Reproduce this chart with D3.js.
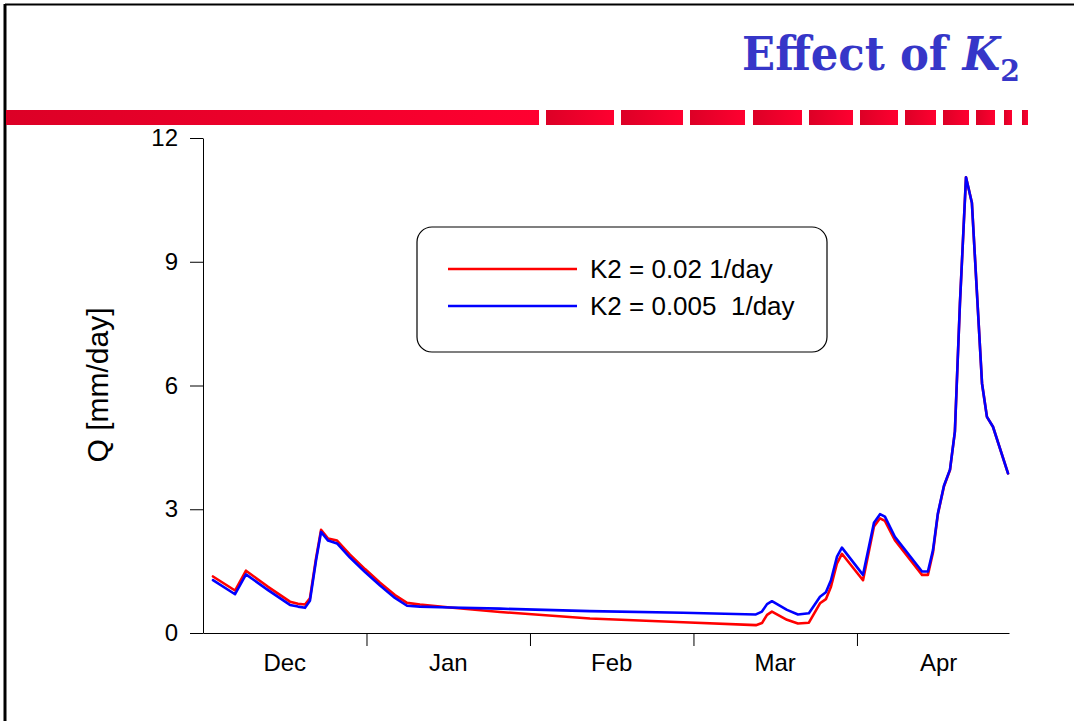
<!DOCTYPE html>
<html>
<head>
<meta charset="utf-8">
<script src="https://cdn.jsdelivr.net/npm/d3@7"></script>
<style>
html,body{margin:0;padding:0;background:#fff;}
svg{display:block;}
</style>
</head>
<body>
<svg id="chart" width="1074" height="721"></svg>
<script>
// ---- data ----
const title = "Effect of ";
const titleVar = "K";
const titleSub = "2";
const yLabel = "Q [mm/day]";
const yTicks = [0, 3, 6, 9, 12];
const monthTicks = [1, 2, 3, 4];
const monthLabels = ["Dec", "Jan", "Feb", "Mar", "Apr"];
const seriesNames = ["K2 = 0.02 1/day", "K2 = 0.005  1/day"];
// time in months since 1 Dec
const tMonths = [0.061,0.196,0.263,0.398,0.532,0.581,0.624,0.654,0.691,0.722,0.765,0.820,0.899,0.991,1.083,1.174,1.248,1.327,1.511,1.817,2.367,2.937,3.382,3.419,3.450,3.480,3.572,3.639,3.706,3.774,3.810,3.841,3.878,3.908,4.037,4.104,4.141,4.171,4.232,4.398,4.434,4.465,4.495,4.532,4.569,4.599,4.630,4.667,4.703,4.765,4.795,4.832,4.924];
const qK2_002  = [1.37,1.03,1.51,1.12,0.76,0.71,0.69,0.84,1.80,2.50,2.29,2.24,1.90,1.55,1.22,0.92,0.73,0.69,0.62,0.51,0.35,0.26,0.19,0.24,0.44,0.52,0.32,0.23,0.25,0.72,0.82,1.12,1.69,1.92,1.28,2.58,2.78,2.72,2.25,1.41,1.41,1.95,2.88,3.55,3.95,4.88,8.0,11.05,10.43,6.05,5.24,5.00,3.87];
const qK2_0005 = [1.28,0.94,1.42,1.04,0.68,0.64,0.61,0.78,1.75,2.45,2.24,2.17,1.83,1.48,1.15,0.85,0.66,0.64,0.62,0.59,0.53,0.49,0.45,0.52,0.70,0.77,0.56,0.45,0.48,0.88,0.99,1.28,1.85,2.07,1.41,2.67,2.88,2.82,2.33,1.49,1.49,2.01,2.90,3.57,3.96,4.88,8.0,11.05,10.43,6.05,5.24,5.00,3.87];

// ---- layout ----
const svg = d3.select("#chart");
const font = "Liberation Sans, Arial, Helvetica, sans-serif";

// frame
svg.append("line").attr("x1",5).attr("x2",1074).attr("y1",4.5).attr("y2",4.5).attr("stroke","#000").attr("stroke-width",2);
svg.append("line").attr("x1",5).attr("x2",5).attr("y1",4).attr("y2",721).attr("stroke","#000").attr("stroke-width",3);

// red dashed banner
const defs = svg.append("defs");
const grad = defs.append("linearGradient").attr("id","redgrad").attr("x1","0").attr("x2","1").attr("y1","0").attr("y2","0");
grad.append("stop").attr("offset","0").attr("stop-color","#dc0026");
grad.append("stop").attr("offset","1").attr("stop-color","#ff0030");
const segs = [[6,539],[546,614],[621,683],[690,745],[753,802],[809,853],[860,898],[905,936],[943,969],[976,995],[1004,1012],[1022,1028]];
svg.append("g").selectAll("rect").data(segs).join("rect")
  .attr("x",d=>d[0]).attr("width",d=>d[1]-d[0]).attr("y",110).attr("height",15)
  .attr("fill","url(#redgrad)");

// title
const tt = svg.append("text").attr("x",1020).attr("y",70).attr("text-anchor","end")
  .attr("font-family","DejaVu Serif, Liberation Serif, serif").attr("font-weight","bold")
  .attr("font-size",46).attr("fill","#3636c8");
tt.append("tspan").text(title);
tt.append("tspan").attr("font-style","italic").text(titleVar);
tt.append("tspan").attr("font-size",30).attr("dy",11).text(titleSub);
(function(){
  const w = tt.node().getComputedTextLength();
  const s = 278 / w;
  tt.attr("transform",`translate(1020,70) scale(${s},1) translate(-1020,-70)`);
})();

// scales
const x = d3.scaleLinear().domain([0, 4.93]).range([203, 1009]);
const y = d3.scaleLinear().domain([0, 12]).range([633, 138]);

// y axis
const yAxis = svg.append("g").attr("transform","translate(203,0)")
  .call(d3.axisLeft(y).tickValues(yTicks).tickSize(13).tickPadding(12).tickSizeOuter(0));
yAxis.select(".domain").attr("stroke","#000").attr("stroke-width",1);
yAxis.selectAll(".tick line").attr("stroke","#000");
yAxis.selectAll(".tick text").attr("font-family",font).attr("font-size",24).attr("fill","#000");

// x axis
const xAxis = svg.append("g").attr("transform","translate(0,633)")
  .call(d3.axisBottom(x).tickValues(monthTicks).tickSize(13).tickFormat("").tickSizeOuter(0));
xAxis.select(".domain").attr("stroke","#000").attr("stroke-width",1);
xAxis.selectAll(".tick line").attr("stroke","#000");
svg.append("g").selectAll("text").data(monthLabels).join("text")
  .attr("x",(d,i)=>x(i+0.5)).attr("y",671).attr("text-anchor","middle")
  .attr("font-family",font).attr("font-size",24).attr("fill","#000").text(d=>d);

// y label
svg.append("text").attr("transform","translate(108,385) rotate(-90)")
  .attr("text-anchor","middle").attr("font-family",font).attr("font-size",30).attr("fill","#000").text(yLabel);

// lines
const line = d3.line().x((d,i)=>x(tMonths[i])).y(d=>y(d));
const colors = ["#ff0000","#0000ff"];
[qK2_002, qK2_0005].forEach((s,k)=>{
  svg.append("path").datum(s).attr("d",line).attr("fill","none")
    .attr("stroke",colors[k]).attr("stroke-width",2.6).attr("stroke-linejoin","round").attr("stroke-linecap","round");
});

// legend
svg.append("rect").attr("x",417).attr("y",227).attr("width",410).attr("height",125).attr("rx",15).attr("ry",15)
  .attr("fill","#fff").attr("stroke","#000").attr("stroke-width",1.2);
const ly = [269, 306];
seriesNames.forEach((n,k)=>{
  svg.append("line").attr("x1",448).attr("x2",577).attr("y1",ly[k]).attr("y2",ly[k]).attr("stroke",colors[k]).attr("stroke-width",2.5);
  svg.append("text").attr("x",590).attr("y",ly[k]+9).attr("font-family",font).attr("font-size",26).attr("fill","#000")
    .attr("xml:space","preserve").style("white-space","pre").text(n);
});
</script>
</body>
</html>
